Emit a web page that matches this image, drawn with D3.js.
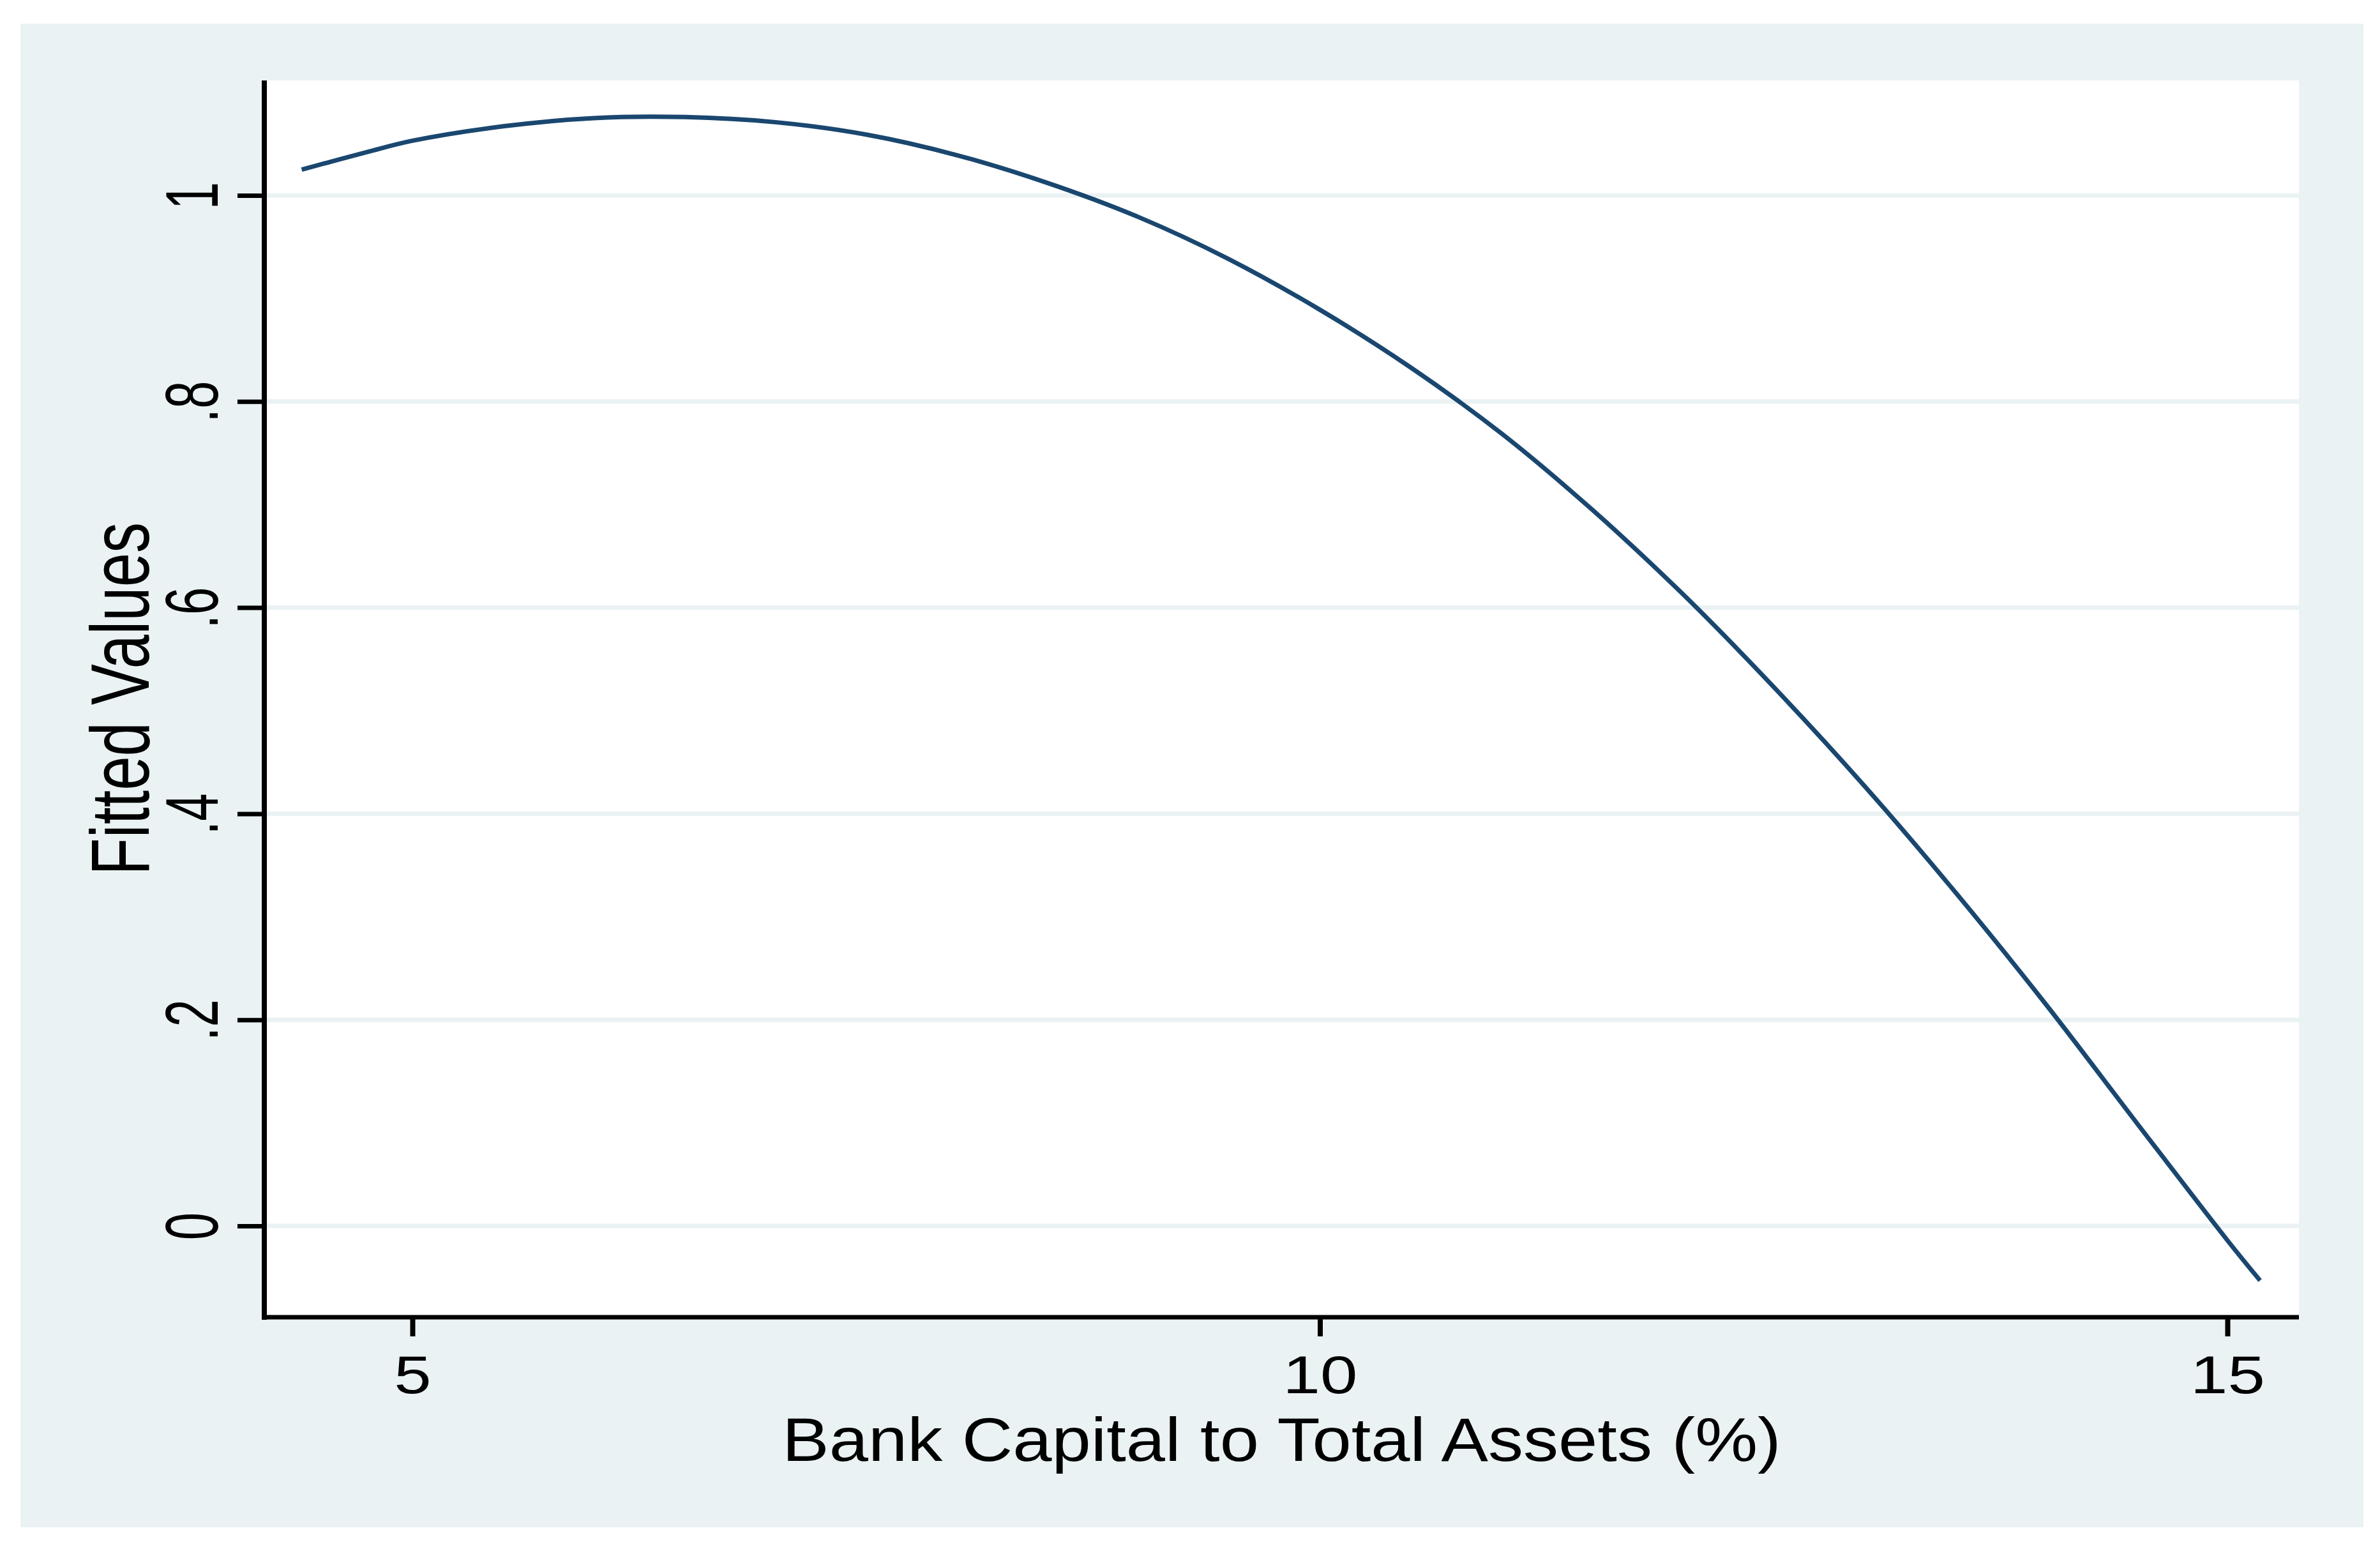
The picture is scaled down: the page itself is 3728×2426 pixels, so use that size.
<!DOCTYPE html>
<html>
<head>
<meta charset="utf-8">
<script src="https://cdn.jsdelivr.net/npm/d3@7"></script>
<style>
  html, body { margin: 0; padding: 0; background: #ffffff; }
  svg { display: block; }
  text { font-family: "Liberation Sans", Arial, sans-serif; fill: #000; }
</style>
</head>
<body>
<svg id="chart" width="3728" height="2426"></svg>
<script>
// ---- data ----
const capitalRatio = [4.39, 4.75, 5.0, 5.5, 6.0, 6.5, 7.0, 7.5, 8.0, 8.5, 9.0, 9.5, 10.0, 10.5,
  11.0, 11.5, 12.0, 12.5, 13.0, 13.5, 14.0, 14.5, 15.0, 15.18];
const fittedValues = [1.025, 1.042, 1.053, 1.067, 1.075, 1.076, 1.071, 1.059, 1.039, 1.012, 0.979, 0.938, 0.889, 0.833,
  0.769, 0.695, 0.613, 0.523, 0.427, 0.324, 0.215, 0.100, -0.014, -0.053];
const xTicks = [5, 10, 15];
const xTickLabels = ["5", "10", "15"];
const yTicks = [0, 0.2, 0.4, 0.6, 0.8, 1];
const yTickLabels = ["0", ".2", ".4", ".6", ".8", "1"];
const xTitle = "Bank Capital to Total Assets (%)";
const yTitle = "Fitted Values";

// ---- layout ----
const bg = "#eaf2f3";
const lineColor = "#1a476f";
const plot = { left: 414, right: 3601, top: 126, bottom: 2063 };

const svg = d3.select("#chart");

svg.append("rect").attr("x", 32).attr("y", 37).attr("width", 3702 - 32).attr("height", 2392 - 37).attr("fill", bg);
svg.append("rect").attr("x", plot.left).attr("y", plot.top)
  .attr("width", plot.right - plot.left).attr("height", plot.bottom - plot.top).attr("fill", "#ffffff");

const x = d3.scaleLinear().domain([4.184, 15.394]).range([plot.left, plot.right]);
const y = d3.scaleLinear().domain([-0.0886, 1.1115]).range([plot.bottom, plot.top]);

// gridlines
svg.append("g").selectAll("line").data(yTicks).join("line")
  .attr("x1", plot.left).attr("x2", plot.right)
  .attr("y1", d => y(d)).attr("y2", d => y(d))
  .attr("stroke", bg).attr("stroke-width", 7);

// curve
const pts = capitalRatio.map((v, i) => [v, fittedValues[i]]);
svg.append("path").datum(pts)
  .attr("d", d3.line().x(d => x(d[0])).y(d => y(d[1])).curve(d3.curveCatmullRom.alpha(0.5)))
  .attr("fill", "none").attr("stroke", lineColor).attr("stroke-width", 7)
  .attr("stroke-linejoin", "round");

// y axis
const yAxis = d3.axisLeft(y).tickValues(yTicks).tickSize(42).tickFormat((d, i) => yTickLabels[i]);
const gy = svg.append("g").attr("transform", `translate(${plot.left},0)`).call(yAxis);
gy.select(".domain").remove();
gy.selectAll(".tick line").attr("stroke", "#000").attr("stroke-width", 7);
gy.selectAll(".tick text")
  .attr("x", null).attr("dy", null)
  .attr("text-anchor", "middle")
  .style("font-size", "78px")
  .attr("transform", "translate(-73,0) scale(1.5,1) rotate(-90)");

// x axis
const xAxis = d3.axisBottom(x).tickValues(xTicks).tickSize(30).tickFormat((d, i) => xTickLabels[i]);
const gx = svg.append("g").attr("transform", `translate(0,${plot.bottom})`).call(xAxis);
gx.select(".domain").remove();
gx.selectAll(".tick line").attr("stroke", "#000").attr("stroke-width", 8);
gx.selectAll(".tick text")
  .attr("y", null).attr("dy", null)
  .attr("text-anchor", "middle")
  .style("font-size", "84px")
  .attr("transform", "translate(0,119) scale(1.25,1)");

// axis lines
svg.append("line").attr("x1", plot.left).attr("x2", plot.left).attr("y1", plot.top).attr("y2", plot.bottom + 4)
  .attr("stroke", "#000").attr("stroke-width", 8);
svg.append("line").attr("x1", plot.left - 4).attr("x2", plot.right).attr("y1", plot.bottom).attr("y2", plot.bottom)
  .attr("stroke", "#000").attr("stroke-width", 7);

// titles
svg.append("text").text(xTitle)
  .attr("text-anchor", "middle").style("font-size", "96px")
  .attr("transform", `translate(${(plot.left + plot.right) / 2},2288) scale(1.147,1)`);
svg.append("text").text(yTitle)
  .attr("text-anchor", "middle").style("font-size", "96px")
  .attr("transform", `translate(233,${(plot.top + plot.bottom) / 2}) scale(1.356,1) rotate(-90)`);
</script>
</body>
</html>
